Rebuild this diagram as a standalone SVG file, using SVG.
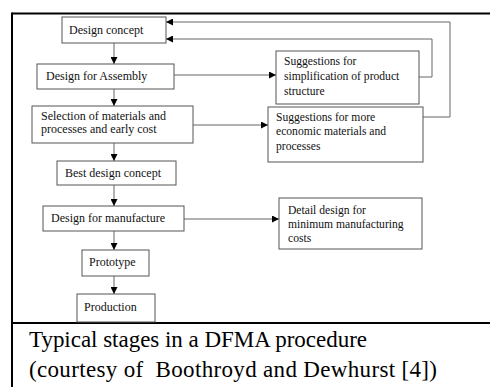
<svg xmlns="http://www.w3.org/2000/svg" width="490" height="387" viewBox="0 0 490 387">
<style>
.box{fill:#fff;stroke:#555;stroke-width:1}
.t{font-family:"Liberation Serif","Times New Roman",serif;font-size:12px;fill:#111}
.tr{font-family:"Liberation Serif","Times New Roman",serif;font-size:11.6px;fill:#111}
.cap{font-family:"Liberation Serif","Times New Roman",serif;font-size:23px;fill:#000}
.c{fill:none;stroke:#666;stroke-width:1}
.frame{stroke:#000;stroke-width:2;fill:none}
</style>
<defs>
<marker id="ah" viewBox="0 0 10 10" refX="10" refY="5" markerWidth="8" markerHeight="7" markerUnits="userSpaceOnUse" orient="auto">
<path d="M0,0 L10,5 L0,10 Z" fill="#000"/>
</marker>
</defs>
<rect width="490" height="387" fill="#fff"/>
<g id="frame">
<line class="frame" x1="12" y1="13.5" x2="490" y2="13.5"/>
<line class="frame" x1="12" y1="12.5" x2="12" y2="387"/>
<line class="frame" x1="12" y1="323" x2="490" y2="323"/>
</g>
<g id="connectors">
<line class="c" x1="114" y1="43" x2="114" y2="64" marker-end="url(#ah)"/>
<line class="c" x1="114" y1="89" x2="114" y2="106" marker-end="url(#ah)"/>
<line class="c" x1="114" y1="143" x2="114" y2="161" marker-end="url(#ah)"/>
<line class="c" x1="114" y1="185" x2="114" y2="206" marker-end="url(#ah)"/>
<line class="c" x1="114" y1="231" x2="114" y2="250" marker-end="url(#ah)"/>
<line class="c" x1="114" y1="276" x2="114" y2="294" marker-end="url(#ah)"/>
<line class="c" x1="174" y1="75" x2="276" y2="75" marker-end="url(#ah)"/>
<line class="c" x1="193" y1="125" x2="268" y2="125" marker-end="url(#ah)"/>
<line class="c" x1="184" y1="219" x2="279" y2="219" marker-end="url(#ah)"/>
<polyline class="c" points="419,77 432,77 432,39 166,39" marker-end="url(#ah)"/>
<polyline class="c" points="423,117 450,117 450,22 166,22" marker-end="url(#ah)"/>
</g>
<g id="design-concept">
<rect class="box" x="62" y="17" width="104" height="26"/>
<text class="t" x="69" y="34">Design concept</text>
</g>
<g id="design-for-assembly">
<rect class="box" x="37" y="64" width="137" height="25"/>
<text class="t" x="46" y="80">Design for Assembly</text>
</g>
<g id="selection">
<rect class="box" x="32" y="106" width="161" height="37"/>
<text class="t" x="41" y="119.5">Selection of materials and</text>
<text class="t" x="41" y="132.5">processes and early cost</text>
</g>
<g id="best-design-concept">
<rect class="box" x="57" y="161" width="119" height="24"/>
<text class="t" x="65" y="177">Best design concept</text>
</g>
<g id="design-for-manufacture">
<rect class="box" x="43" y="206" width="141" height="25"/>
<text class="t" x="51" y="222">Design for manufacture</text>
</g>
<g id="prototype">
<rect class="box" x="82" y="250" width="67" height="26"/>
<text class="t" x="89" y="266">Prototype</text>
</g>
<g id="production">
<rect class="box" x="77" y="294" width="78" height="28"/>
<text class="t" x="84" y="311">Production</text>
</g>
<g id="simplification">
<rect class="box" x="276" y="51" width="143" height="53"/>
<text class="tr" x="284" y="65">Suggestions for</text>
<text class="tr" x="284" y="80">simplification of product</text>
<text class="tr" x="284" y="95">structure</text>
</g>
<g id="economic">
<rect class="box" x="268" y="107" width="155" height="55"/>
<text class="tr" x="276" y="121">Suggestions for more</text>
<text class="tr" x="276" y="135">economic materials and</text>
<text class="tr" x="276" y="150">processes</text>
</g>
<g id="detail-design">
<rect class="box" x="279" y="198" width="143" height="51"/>
<text class="tr" x="288" y="214">Detail design for</text>
<text class="tr" x="288" y="228">minimum manufacturing</text>
<text class="tr" x="288" y="242">costs</text>
</g>
<g id="caption">
<text class="cap" x="29" y="347" textLength="338" lengthAdjust="spacing">Typical stages in a DFMA procedure</text>
<text class="cap" x="29" y="377" xml:space="preserve" textLength="408" lengthAdjust="spacing">(courtesy of  Boothroyd and Dewhurst [4])</text>
</g>
</svg>
